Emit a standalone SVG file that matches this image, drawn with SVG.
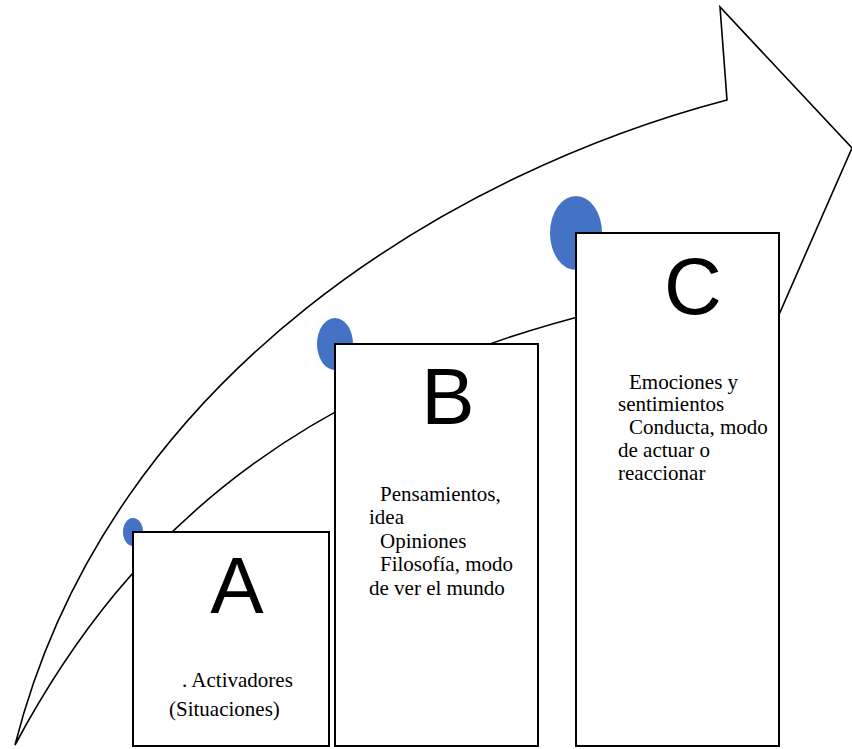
<svg xmlns="http://www.w3.org/2000/svg" width="852" height="749" viewBox="0 0 852 749">
<style>
.box{fill:#fff;stroke:#000;stroke-width:2}
.dot{fill:#4472C4}
.big{font-family:"Liberation Sans",Arial,sans-serif;font-size:80px;fill:#000;text-anchor:middle}
.t{font-family:"Liberation Serif","Times New Roman",serif;font-size:21px;fill:#000}
</style>
<rect width="852" height="749" fill="#fff"/>
<g id="connectors">
<path d="M15,745 C110,370 460,170 727,100 L720,7 L852,148 L760,358 L700,290 C310,360 130,530 15,745 Z" fill="none" stroke="#000" stroke-width="1.6" stroke-linejoin="miter"/>
</g>
<g id="nodeA">
<ellipse class="dot" cx="133" cy="532" rx="10" ry="14"/>
<rect class="box" x="133" y="532" width="196" height="214"/>
<text class="big" x="237" y="613">A</text>
<text class="t" x="182" y="687">. Activadores</text>
<text class="t" x="169" y="716">(Situaciones)</text>
</g>
<g id="nodeB">
<ellipse class="dot" cx="335" cy="344" rx="18" ry="26"/>
<rect class="box" x="335" y="344" width="203" height="402"/>
<text class="big" x="448" y="424">B</text>
<text class="t" x="380" y="500.5">Pensamientos,</text>
<text class="t" x="369" y="524">idea</text>
<text class="t" x="380" y="547.5">Opiniones</text>
<text class="t" x="380" y="571">Filosofía, modo</text>
<text class="t" x="369" y="594.5">de ver el mundo</text>
</g>
<g id="nodeC">
<ellipse class="dot" cx="576" cy="233" rx="26" ry="37"/>
<rect class="box" x="576" y="233" width="203" height="513"/>
<text class="big" x="693" y="314">C</text>
<text class="t" x="629" y="388.5">Emociones y</text>
<text class="t" x="618" y="411">sentimientos</text>
<text class="t" x="629" y="434">Conducta, modo</text>
<text class="t" x="618" y="457">de actuar o</text>
<text class="t" x="618" y="479.5">reaccionar</text>
</g>
</svg>
